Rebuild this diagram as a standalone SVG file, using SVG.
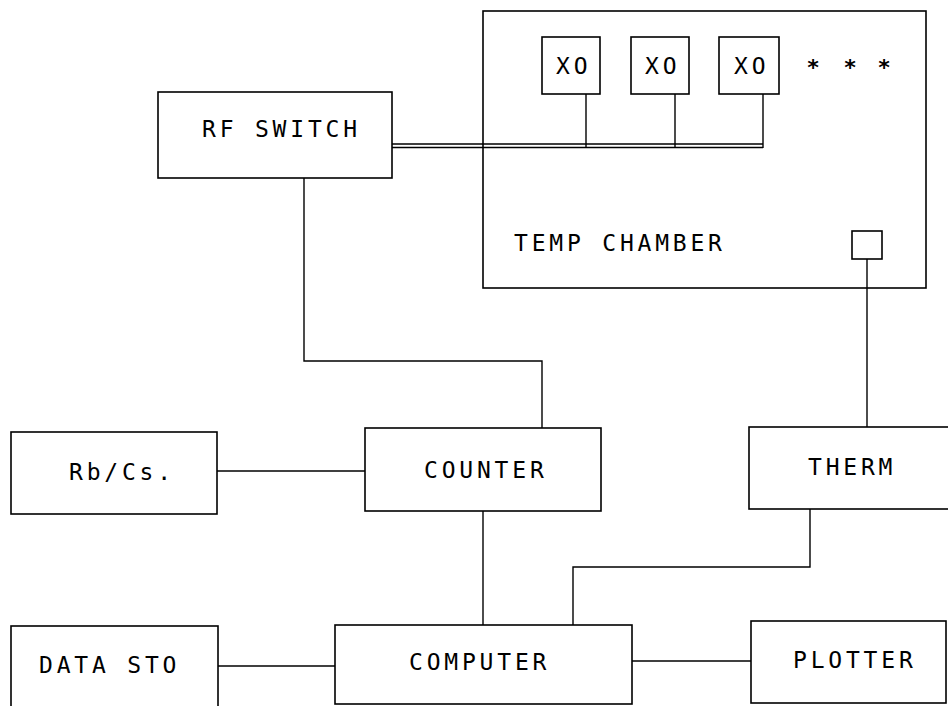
<svg xmlns="http://www.w3.org/2000/svg" width="948" height="706" viewBox="0 0 948 706">
<style>
.box{fill:none;stroke:#000;stroke-width:1.6}
.ln{fill:none;stroke:#000;stroke-width:1.4}
.lbl{font-family:"DejaVu Sans Mono","Liberation Mono",monospace;font-size:23px;letter-spacing:3.8px;fill:#000}
.ast{font-family:"DejaVu Sans Mono","Liberation Mono",monospace;font-size:22px;font-weight:bold;fill:#000;text-anchor:middle}
</style>
<rect width="948" height="706" fill="#fff"/>
<g id="temp-chamber">
<rect class="box" x="483" y="11" width="443" height="277"/>
<text class="lbl" x="514" y="251">TEMP CHAMBER</text>
</g>
<g id="xo1"><rect class="box" x="542" y="37" width="58" height="57"/><text class="lbl" x="556" y="74">XO</text></g>
<g id="xo2"><rect class="box" x="631" y="37" width="58" height="57"/><text class="lbl" x="645" y="74">XO</text></g>
<g id="xo3"><rect class="box" x="719" y="37" width="60" height="57"/><text class="lbl" x="734" y="74">XO</text></g>
<g id="more">
<text class="ast" x="813" y="75">*</text>
<text class="ast" x="850" y="75">*</text>
<text class="ast" x="884" y="75">*</text>
</g>
<g id="sensor"><rect class="box" x="852" y="231" width="30" height="28"/></g>
<g id="rf-switch"><rect class="box" x="158" y="92" width="234" height="86"/><text class="lbl" x="202" y="137">RF SWITCH</text></g>
<g id="rbcs"><rect class="box" x="11" y="432" width="206" height="82"/><text class="lbl" x="69" y="480">Rb/Cs.</text></g>
<g id="counter"><rect class="box" x="365" y="428" width="236" height="83"/><text class="lbl" x="424" y="478">COUNTER</text></g>
<g id="therm"><rect class="box" x="749" y="427" width="210" height="82"/><text class="lbl" x="808" y="475">THERM</text></g>
<g id="data-sto"><rect class="box" x="11" y="626" width="207" height="90"/><text class="lbl" x="39" y="673">DATA STO</text></g>
<g id="computer"><rect class="box" x="335" y="625" width="297" height="79"/><text class="lbl" x="409" y="670">COMPUTER</text></g>
<g id="plotter"><rect class="box" x="751" y="621" width="195" height="82"/><text class="lbl" x="793" y="668">PLOTTER</text></g>
<g id="connectors">
<path class="ln" d="M392 144H763M392 147.5H763"/>
<path class="ln" d="M586 94V148M675 94V148M763 94V148"/>
<path class="ln" d="M304 178V361H542V428"/>
<path class="ln" d="M217 471H365"/>
<path class="ln" d="M483 511V625"/>
<path class="ln" d="M867 259V427"/>
<path class="ln" d="M810 509V567H573V625"/>
<path class="ln" d="M218 666H335"/>
<path class="ln" d="M632 661H751"/>
</g>
</svg>
